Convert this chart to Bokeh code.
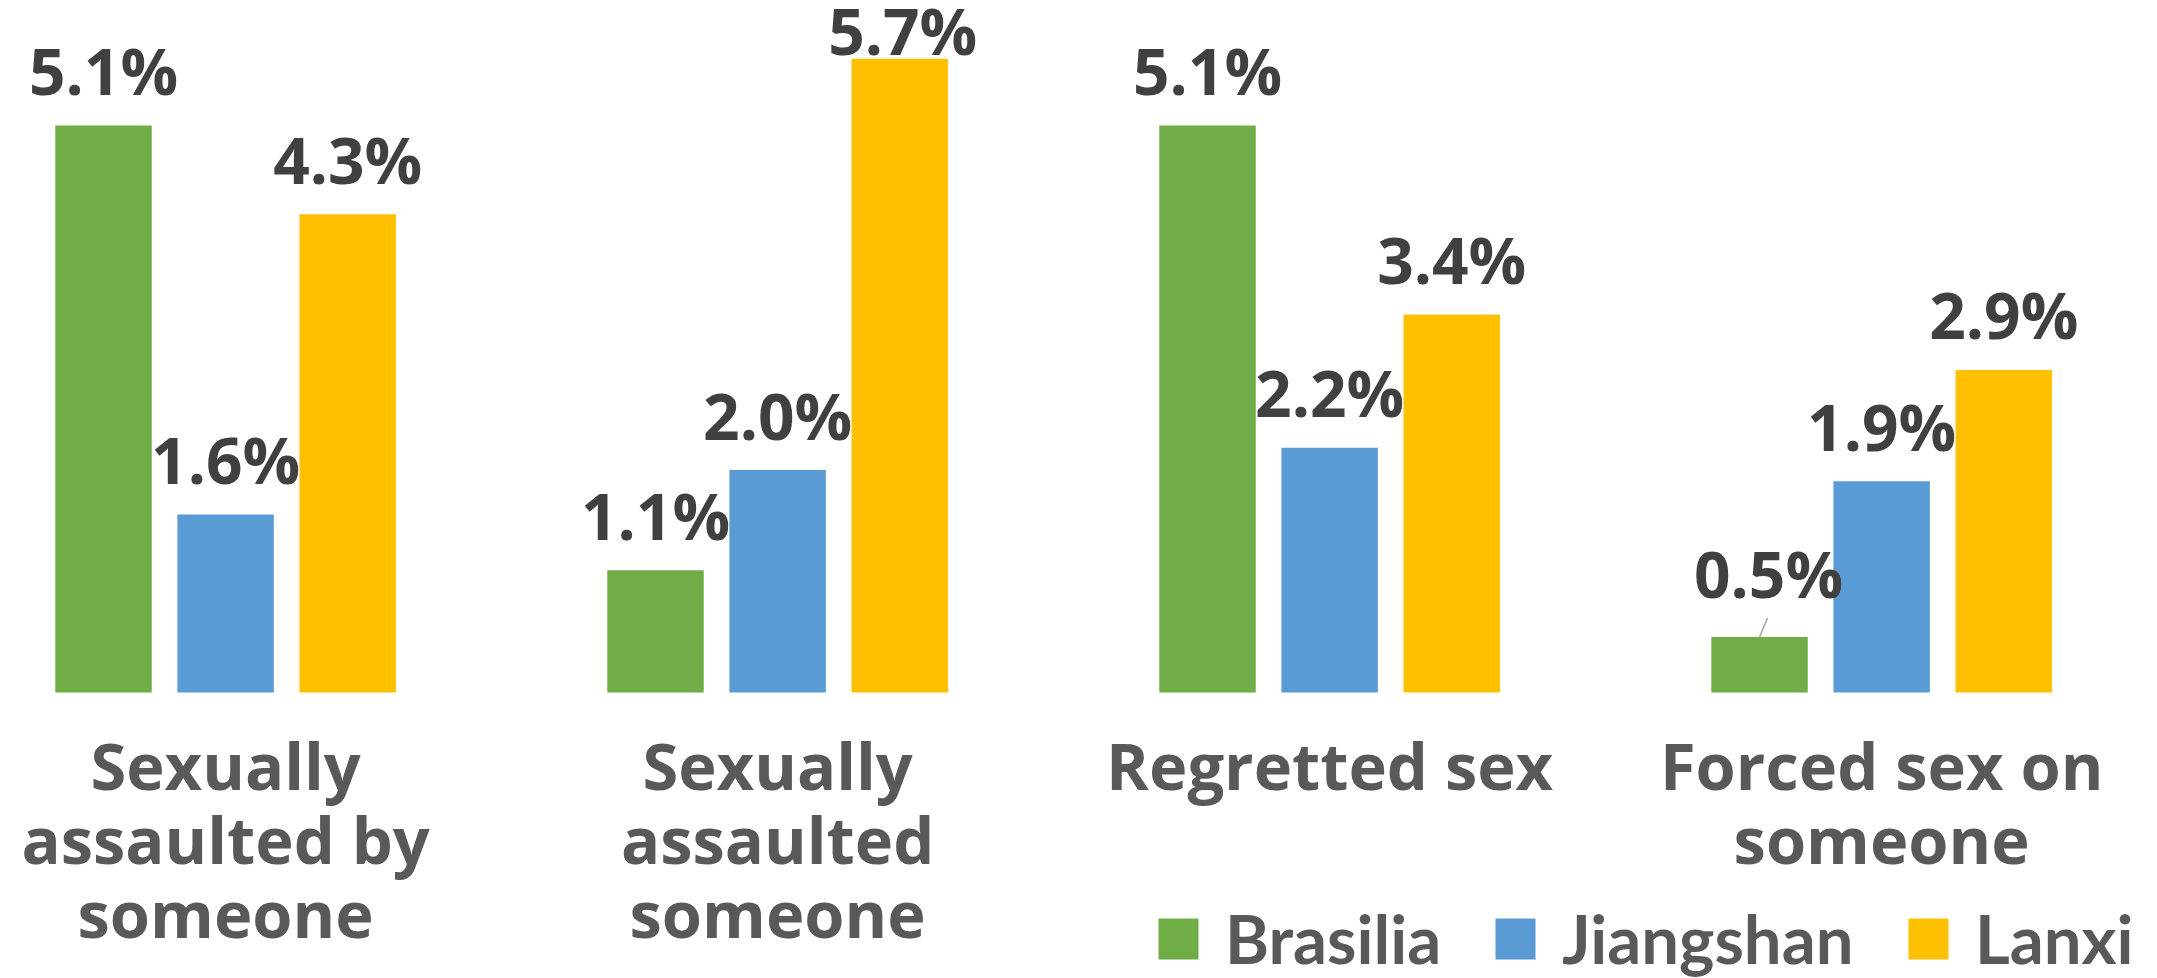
from bokeh.plotting import figure
from bokeh.models import Range1d, ColumnDataSource, Legend, LegendItem
from bokeh.core.properties import value
from bokeh.embed import file_html
from bokeh.resources import INLINE

# ---- data ----
categories = ["Sexually assaulted by someone", "Sexually assaulted someone",
              "Regretted sex", "Forced sex on someone"]
category_labels = ["Sexually\nassaulted by\nsomeone", "Sexually\nassaulted\nsomeone",
                   "Regretted sex", "Forced sex on\nsomeone"]
cities = ["Brasilia", "Jiangshan", "Lanxi"]
brasilia = [5.1, 1.1, 5.1, 0.5]
jiangshan = [1.6, 2.0, 2.2, 1.9]
lanxi = [4.3, 5.7, 3.4, 2.9]

# ---- style / layout ----
colors = ["#70AD47", "#5B9BD5", "#FFC000"]
W, H = 2157, 978
UX = 122.1                      # pixels per bar slot
PX = 111.2                      # pixels per percent
BASE = 692                      # pixel row of the zero line
X_FIRST = 103 / UX              # centre of the first bar, in slots
GROUP_STEP = 3 + 1.521          # slots from one category to the next
BAR_W = 0.79
Y1 = BASE / PX
Y0 = -(H - BASE) / PX
LBL_FONT, CAT_FONT, LEG_FONT = "Open Sans", "Open Sans", "Lato"
LBL_SIZE, CAT_SIZE, LEG_SIZE = 64, 65, 67
BL_FIX = 0.47                   # em correction for alphabetic baseline

series = [brasilia, jiangshan, lanxi]


def slot(gi, ci):
    return X_FIRST + gi * GROUP_STEP + ci


p = figure(x_range=Range1d(0, W / UX), y_range=Range1d(Y0, Y1), width=W, height=H,
           output_backend="svg", toolbar_location=None,
           x_axis_location=None, y_axis_location=None,
           min_border_left=0, min_border_right=0, min_border_top=0, min_border_bottom=0)
p.grid.visible = False
p.outline_line_color = None

renderers = []
for ci, (city, vals, col) in enumerate(zip(cities, series, colors)):
    src = ColumnDataSource(dict(x=[slot(gi, ci) for gi in range(len(categories))],
                                top=vals, cat=categories))
    r = p.vbar(x="x", top="top", width=BAR_W, bottom=0, source=src,
               fill_color=col, line_color=None)
    renderers.append(r)

# data labels (label nudges in px: dx right, dy up)
nudges = {("Sexually assaulted someone", "Lanxi"): (3, -27),
          ("Forced sex on someone", "Brasilia"): (9, 8)}
gap = (25 + BL_FIX * LBL_SIZE) / PX
lx, ly, lt = [], [], []
for ci, (city, vals) in enumerate(zip(cities, series)):
    for gi, (c, v) in enumerate(zip(categories, vals)):
        dx, dy = nudges.get((c, city), (0, 0))
        lx.append(slot(gi, ci) + dx / UX)
        ly.append(v + gap + dy / PX)
        lt.append(f"{v:.1f}%")
p.text(x="x", y="y", text="t", source=ColumnDataSource(dict(x=lx, y=ly, t=lt)),
       text_align="center", text_baseline="alphabetic",
       text_font=value(LBL_FONT), text_font_style="bold", text_font_size=f"{LBL_SIZE}px",
       text_color="#404040")

# leader line for the 0.5% label
gi_f = categories.index("Forced sex on someone")
lead = ColumnDataSource(dict(x0=[slot(gi_f, 0)], x1=[slot(gi_f, 0) + 8 / UX],
                             y0=[brasilia[gi_f]], y1=[brasilia[gi_f] + 19 / PX]))
p.segment(x0="x0", y0="y0", x1="x1", y1="y1", source=lead,
          line_color="#A6A6A6", line_width=1.5)

# category labels
first_base = Y1 - (795 - BL_FIX * CAT_SIZE) / PX
line_h = 74 / PX
cx, cy, ct = [], [], []
for gi, lab in enumerate(category_labels):
    for i, line in enumerate(lab.split("\n")):
        cx.append(slot(gi, 1))
        cy.append(first_base - i * line_h)
        ct.append(line)
p.text(x="x", y="y", text="t", source=ColumnDataSource(dict(x=cx, y=cy, t=ct)),
       text_align="center", text_baseline="alphabetic",
       text_font=value(CAT_FONT), text_font_style="bold", text_font_size=f"{CAT_SIZE}px",
       text_color="#595959")

# legend: one entry per Legend so each sits exactly where the reference has it
leg_x = [1153, 1490, 1903]
for city, r, x in zip(cities, renderers, leg_x):
    legend = Legend(items=[LegendItem(label=city, renderers=[r])],
                    orientation="horizontal", location=(x, 0),
                    glyph_width=50, glyph_height=51, label_standoff=22, spacing=0,
                    padding=0, margin=0, border_line_color=None, background_fill_alpha=0,
                    label_text_font=LEG_FONT, label_text_font_style="bold",
                    label_text_font_size=f"{LEG_SIZE}px", label_text_color="#595959")
    p.add_layout(legend)

open("out.html", "w").write(file_html(p, INLINE))
